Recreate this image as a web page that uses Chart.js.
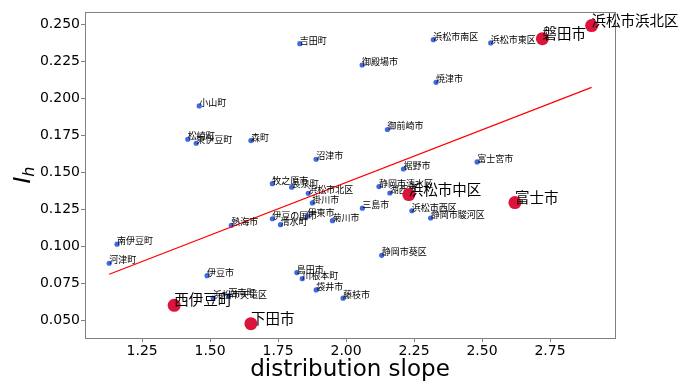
<!DOCTYPE html>
<html>
<head>
<meta charset="utf-8">
<script src="https://cdn.jsdelivr.net/npm/chart.js@4/dist/chart.umd.min.js"></script>
<style>
  html, body { margin: 0; padding: 0; background: #fff; }
  #lienzo { display: block; }
</style>
</head>
<body>
<canvas id="lienzo" width="695" height="383"></canvas>
<script>
// Municipios de Shizuoka: pendiente de distribución vs. I_h
const municipios = [
  '小山町', '吉田町', '浜松市南区', '浜松市東区', '磐田市', '浜松市浜北区', '御殿場市', '焼津市',
  '御前崎市', '松崎町', '東伊豆町', '森町', '牧之原市', '長泉町', '浜松市北区', '伊豆の国市',
  '清水町', '熱海市', '南伊豆町', '伊東市', '沼津市', '富士宮市', '裾野市', '静岡市清水区',
  '湖西市', '浜松市中区', '富士市', '掛川市', '三島市', '浜松市西区', '静岡市駿河区', '菊川市',
  '河津町', '伊豆市', '西伊豆町', '下田市', '浜松市天竜区', '函南町', '島田市', '川根本町',
  '袋井市', '藤枝市', '静岡市葵区',
];
const pendientes = [
  1.460, 1.830, 2.321, 2.532, 2.722, 2.903, 2.059, 2.331,
  2.152, 1.418, 1.449, 1.650, 1.729, 1.800, 1.861, 1.729,
  1.759, 1.578, 1.158, 1.858, 1.890, 2.482, 2.211, 2.121,
  2.161, 2.231, 2.621, 1.876, 2.060, 2.242, 2.311, 1.950,
  1.129, 1.489, 1.368, 1.650, 1.511, 1.568, 1.819, 1.839,
  1.890, 1.989, 2.131,
];
const valoresIh = [
  0.1948, 0.2369, 0.2396, 0.2374, 0.2403, 0.2491, 0.2225, 0.2108,
  0.1789, 0.1723, 0.1696, 0.1714, 0.1423, 0.1399, 0.1358, 0.1186,
  0.1146, 0.1142, 0.1014, 0.1205, 0.1588, 0.1570, 0.1522, 0.1403,
  0.1360, 0.1349, 0.1295, 0.1293, 0.1257, 0.1240, 0.1191, 0.1173,
  0.0885, 0.0801, 0.0601, 0.0477, 0.0650, 0.0664, 0.0822, 0.0781,
  0.0705, 0.0649, 0.0939,
];
// Los que van en rojo y con etiqueta grande
const destacados = ['磐田市', '浜松市浜北区', '浜松市中区', '富士市', '西伊豆町', '下田市'];

// Recta de ajuste (extremos)
const rectaX = [1.129, 2.903];
const rectaY = [0.0811, 0.2074];

const ticksX = [1.25, 1.50, 1.75, 2.00, 2.25, 2.50, 2.75];
const ticksY = [0.050, 0.075, 0.100, 0.125, 0.150, 0.175, 0.200, 0.225, 0.250];

const puntosAzules = [];
const puntosRojos = [];
municipios.forEach((nombre, i) => {
  const p = { x: pendientes[i], y: valoresIh[i], nombre };
  (destacados.includes(nombre) ? puntosRojos : puntosAzules).push(p);
});

const GRIS = '#808080';
const FUENTE_JP = '"Noto Sans CJK JP", "Noto Sans", sans-serif';

function dibujarEtiquetas(chart, meta, tamano) {
  const ctx = chart.ctx;
  ctx.save();
  ctx.fillStyle = '#000';
  ctx.font = `${tamano}px ${FUENTE_JP}`;
  ctx.textAlign = 'left';
  ctx.textBaseline = 'alphabetic';
  const datos = chart.data.datasets[meta.index].data;
  meta.data.forEach((el, i) => {
    ctx.fillText(datos[i].nombre, el.x, el.y);
  });
  ctx.restore();
}

const pluginEtiquetas = {
  id: 'etiquetas',
  beforeDatasetsDraw(chart) {
    const { ctx, chartArea: a } = chart;
    ctx.save();
    ctx.strokeStyle = GRIS;
    ctx.lineWidth = 1;
    ctx.strokeRect(a.left + 0.5, a.top + 0.5, a.right - a.left, a.bottom - a.top);
    ctx.restore();
  },
  afterDatasetDraw(chart, args) {
    const ds = chart.data.datasets[args.index];
    if (ds.id === 'recta') {
      // etiquetas azules después de la recta, antes de los puntos rojos
      const metaAzul = chart.getDatasetMeta(2);
      dibujarEtiquetas(chart, metaAzul, 9);
    } else if (ds.id === 'rojos') {
      dibujarEtiquetas(chart, args.meta, 14.5);
    }
  },
  afterDraw(chart) {
    const { ctx, chartArea: a } = chart;
    ctx.save();
    ctx.fillStyle = '#000';
    ctx.font = '23px "DejaVu Sans"';
    ctx.textAlign = 'center';
    ctx.textBaseline = 'alphabetic';
    ctx.fillText('distribution slope', (a.left + a.right) / 2, 376);

    // I_h rotado
    const cy = (a.top + a.bottom) / 2;
    ctx.translate(30, cy);
    ctx.rotate(-Math.PI / 2);
    ctx.textAlign = 'left';
    ctx.font = 'italic 23px "DejaVu Sans"';
    const wI = ctx.measureText('I').width;
    ctx.font = 'italic 16px "DejaVu Sans"';
    const wH = ctx.measureText('h').width;
    const x0 = -(wI + wH) / 2;
    ctx.font = 'italic 23px "DejaVu Sans"';
    ctx.fillText('I', x0, 0);
    ctx.font = 'italic 16px "DejaVu Sans"';
    ctx.fillText('h', x0 + wI, 3.5);
    ctx.restore();
  },
};

Chart.defaults.font.family = '"DejaVu Sans"';

new Chart(document.getElementById('lienzo'), {
  type: 'scatter',
  data: {
    datasets: [
      {
        id: 'rojos',
        data: puntosRojos,
        pointRadius: 6.5,
        pointBackgroundColor: '#dc143c',
        pointBorderWidth: 0,
      },
      {
        id: 'recta',
        type: 'line',
        data: rectaX.map((x, i) => ({ x, y: rectaY[i] })),
        borderColor: '#ff0000',
        borderWidth: 1.2,
        pointRadius: 0,
        fill: false,
      },
      {
        id: 'azules',
        data: puntosAzules,
        pointRadius: 2.6,
        pointBackgroundColor: '#4169e1',
        pointBorderWidth: 0,
      },
    ],
  },
  options: {
    responsive: false,
    animation: false,
    devicePixelRatio: 1,
    layout: { padding: { top: 12, right: 80, left: 0, bottom: 0 } },
    plugins: {
      legend: { display: false },
      tooltip: { enabled: false },
    },
    scales: {
      x: {
        type: 'linear',
        min: 1.040,
        max: 2.989,
        afterBuildTicks: (s) => { s.ticks = ticksX.map(v => ({ value: v })); },
        afterFit: (s) => { s.height = 45; },
        grid: { drawOnChartArea: false, drawTicks: true, tickLength: 4, color: GRIS },
        border: { display: true, color: GRIS },
        ticks: {
          autoSkip: false,
          maxRotation: 0,
          padding: 1,
          color: '#000',
          font: { size: 14 },
          callback: (v) => v.toFixed(2),
        },
      },
      y: {
        type: 'linear',
        min: 0.0380,
        max: 0.2583,
        afterBuildTicks: (s) => { s.ticks = ticksY.map(v => ({ value: v })); },
        afterFit: (s) => { s.width = 85; },
        grid: { drawOnChartArea: false, drawTicks: true, tickLength: 4, color: GRIS },
        border: { display: true, color: GRIS },
        ticks: {
          autoSkip: false,
          padding: 1,
          color: '#000',
          font: { size: 14 },
          callback: (v) => v.toFixed(3),
        },
      },
    },
  },
  plugins: [pluginEtiquetas],
});
</script>
</body>
</html>
